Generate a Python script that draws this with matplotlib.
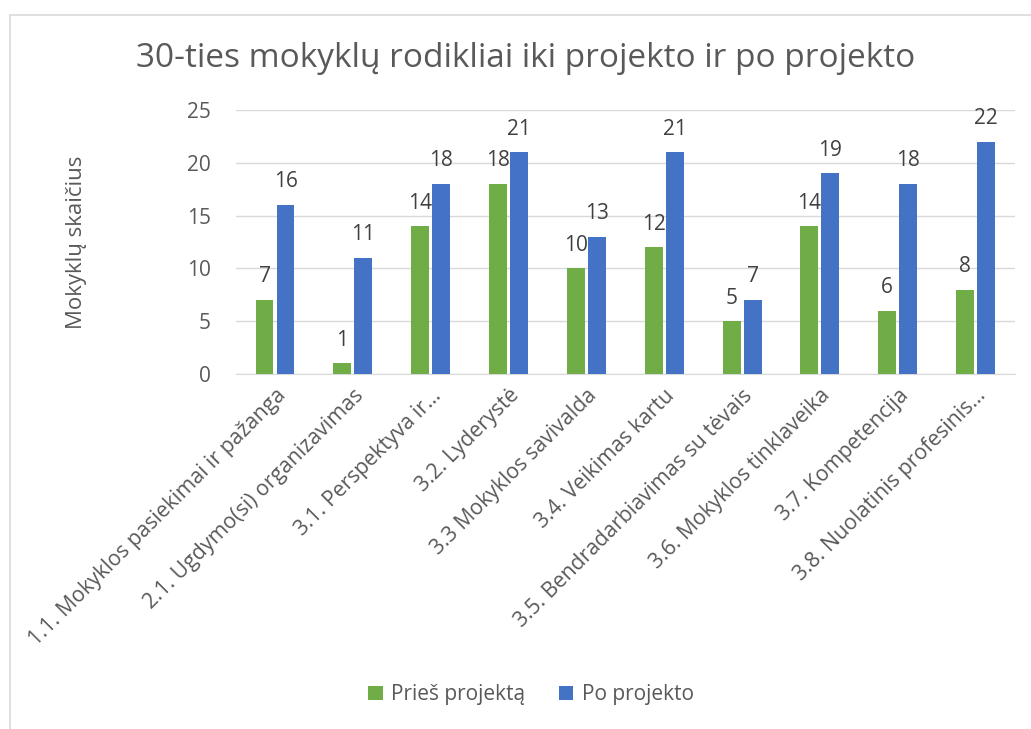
import matplotlib
matplotlib.use("Agg")
import matplotlib.pyplot as plt
import numpy as np
from matplotlib.patches import Rectangle

categories = [
    "1.1. Mokyklos pasiekimai ir pažanga",
    "2.1. Ugdymo(si) organizavimas",
    "3.1. Perspektyva ir...",
    "3.2. Lyderystė",
    "3.3 Mokyklos savivalda",
    "3.4. Veikimas kartu",
    "3.5. Bendradarbiavimas su tėvais",
    "3.6. Mokyklos tinklaveika",
    "3.7. Kompetencija",
    "3.8. Nuolatinis profesinis...",
]
before = [7, 1, 14, 18, 10, 12, 5, 14, 6, 8]
after = [16, 11, 18, 21, 13, 21, 7, 19, 18, 22]
series_names = ["Prieš projektą", "Po projekto"]

plt.rcParams['font.family'] = ['Open Sans', 'DejaVu Sans']
txt = '#595959'
green = '#70AD47'
blue = '#4472C4'

fig = plt.figure(figsize=(10.31, 7.29), dpi=100)
fig.patches.append(Rectangle((0.01, -0.02), 1.2, 1.0, transform=fig.transFigure,
                             fill=False, edgecolor='#D9D9D9', linewidth=1.2))
ax = fig.add_axes([0.229, 0.487, 0.755, 0.362])

x = np.arange(len(categories))
w = 0.23
gap = 0.02
b1 = ax.bar(x - w/2 - gap, before, w, color=green, label=series_names[0], zorder=3)
b2 = ax.bar(x + w/2 + gap, after, w, color=blue, label=series_names[1], zorder=3)
for bars, vals in ((b1, before), (b2, after)):
    for r, v in zip(bars, vals):
        ax.text(r.get_x() + r.get_width()/2, v + 1.2, str(v), ha='center', va='bottom',
                fontsize=15, color='#404040')

ax.set_xlim(-0.5, len(categories) - 0.5)
ax.set_ylim(0, 25)
ax.set_yticks(range(0, 26, 5))
ax.yaxis.grid(True, color='#D9D9D9', linewidth=1, zorder=0)
ax.set_axisbelow(True)
for s in ['top', 'right', 'left']:
    ax.spines[s].set_visible(False)
ax.spines['bottom'].set_color('#D9D9D9')
ax.tick_params(axis='both', length=0, colors=txt, labelsize=15)
ax.tick_params(axis='y', pad=18)
ax.set_xticks(x)
ax.set_xticklabels(categories, rotation=45, ha='right', rotation_mode='anchor', fontsize=15.3, color=txt)
ax.tick_params(axis='x', pad=8)
ax.set_ylabel("Mokyklų skaičius", fontsize=16, color=txt, labelpad=72)

fig.text(0.51, 0.920, "30-ties mokyklų rodikliai iki projekto ir po projekto", ha='center', va='center',
         fontsize=24, color=txt)

fig.legend(handles=[b1, b2], labels=series_names, loc='center', bbox_to_anchor=(0.515, 0.047),
           ncol=2, frameon=False, fontsize=15, labelcolor=txt, handlelength=0.7, handleheight=0.7,
           columnspacing=1.6, handletextpad=0.4)

fig.savefig("out.png", dpi=100)
